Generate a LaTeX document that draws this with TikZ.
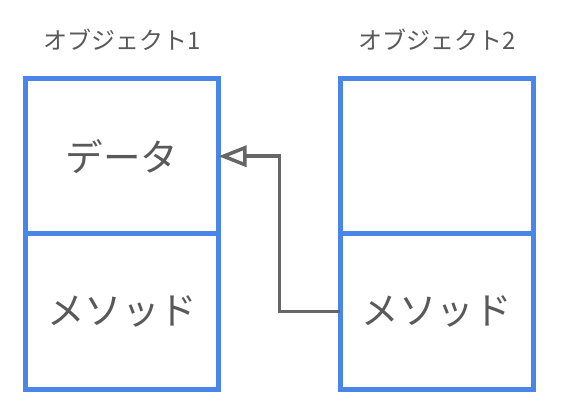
\documentclass[tikz,border=0pt]{standalone}
\usepackage{fontspec}
\usepackage{tikz}
\usetikzlibrary{arrows.meta,positioning,calc}
\newfontfamily\jpfont{Noto Sans CJK JP}
\definecolor{objblue}{RGB}{74,134,232}
\definecolor{txtgray}{RGB}{89,89,89}
\definecolor{arrgray}{RGB}{102,102,102}
\tikzset{
  part/.style={draw=objblue, line width=5pt, outer sep=0pt, rectangle,
               minimum width=193pt, minimum height=155.5pt, text=txtgray,
               font=\jpfont\fontsize{37.5}{42}\selectfont},
  objlabel/.style={text=txtgray, font=\jpfont\fontsize{24}{28}\selectfont},
  refarr/.style={-{Triangle[open, length=28pt, width=21pt]}, arrgray, line width=3.5pt},
}
\begin{document}
\begin{tikzpicture}[x=1pt, y=-1pt]
  \useasboundingbox (0,0) rectangle (567,419);
  % object 1
  \node[part] (o1data) at (122,156.25) {データ};
  \node[part] (o1method) at (122,311.75) {メソッド};
  \node[objlabel] (o1label) at (122,40) {オブジェクト1};
  % object 2
  \node[part] (o2data) at (436.75,156.25) {};
  \node[part] (o2method) at (436.75,311.75) {メソッド};
  \node[objlabel] (o2label) at (436.75,40) {オブジェクト2};
  % reference arrow
  \coordinate (bend) at ($(o1data.east)!0.5!(o2method.west)$);
  \draw[refarr] (o2method.west) -| (bend) |- (o1data.east);
\end{tikzpicture}
\end{document}
